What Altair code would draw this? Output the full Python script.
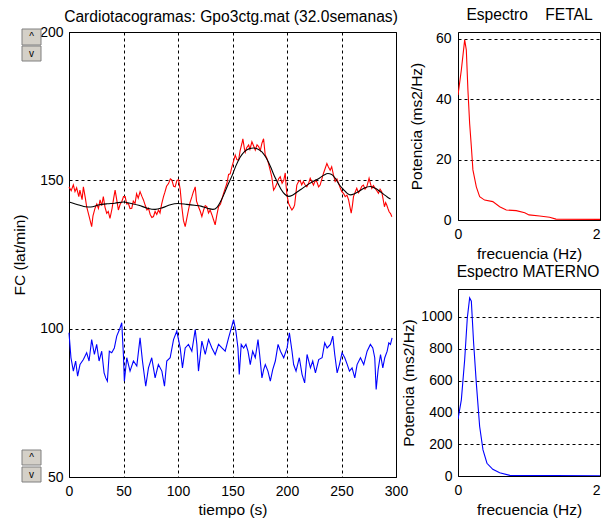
import altair as alt
import pandas as pd

# ---------------- data ----------------
fetal_t = [0, 2, 4, 5.5, 7, 9, 10, 12, 13.2, 15, 16.2, 18, 20.8, 22, 23.9, 25.5, 27, 28.5, 30, 31.5,
           33, 34.6, 36, 37.6, 39.5, 41, 42.3, 44, 45.3, 47, 48.4, 50, 51.5, 53, 54.5, 56, 57.6, 59,
           60.6, 62, 63.5, 65.2, 67, 68.3, 70, 71.5, 72.9, 74.5, 76, 77.5, 79, 80.5, 82.1, 83.5, 85,
           86.7, 88, 89.5, 91.3, 93, 94.3, 96, 97.4, 99, 100.5, 102, 103.5, 105, 106.6, 108, 109.6,
           111, 112.7, 114, 115.8, 117, 118.8, 120.5, 121.9, 123.5, 125, 126.5, 128, 129.5, 131,
           132.6, 134.1, 135.5, 137.2, 139, 140.5, 141.8, 143.3, 144.9, 146.4, 147.9, 149.5, 151,
           152.5, 154, 155.6, 157, 158.7, 159.5, 161, 161.7, 163, 164.8, 166, 167.8, 169.5, 170.9,
           172.5, 174, 175.5, 177, 178.5, 180, 181.5, 183, 184.5, 186, 187.7, 189, 190.8, 192.3,
           193.8, 195.5, 197, 198.4, 199.2, 200, 201.5, 203, 204.5, 206, 207, 208, 209, 210.5, 212,
           213.5, 215, 216.5, 218.2, 219.8, 221.3, 222.8, 224.3, 226, 227.4, 229, 230.4, 232, 233.5,
           235, 236.6, 238, 239.6, 241, 242.5, 244.2, 245.8, 247.3, 248.8, 250.3, 252, 253.4, 255,
           256.5, 257.8, 258.9, 260, 261, 262.5, 264, 265.5, 267.1, 268.6, 270.1, 271.6, 273.2,
           275.3, 276.5, 277.8, 279.3, 280.8, 282.4, 283.9, 285.4, 286.9, 288, 289.4, 290.5, 291.5,
           292.6, 293.7, 295, 296.2]
fetal_v = [147.8, 146.5, 148.5, 146.2, 147.5, 144.5, 146.7, 143.5, 147.8, 144, 141.1, 138.5, 134.4,
           138, 140.6, 142, 140.5, 143.4, 141.5, 144.5, 141, 138.9, 139.5, 137.2, 140.5, 144, 146.7,
           143, 140, 142, 142.8, 144.5, 144.5, 142, 142.2, 140.5, 140.6, 143, 142.2, 145.5, 144,
           146.2, 144.5, 143.4, 141.5, 140, 140.6, 138.5, 137.5, 137.8, 139.5, 138.5, 140, 139, 142,
           144.5, 146, 148, 148.9, 150.5, 150.2, 148, 147.8, 150, 150.2, 147, 141.1, 136.5, 134.4,
           137, 140, 142.5, 144.4, 146, 147.8, 143, 141.1, 139.5, 137.8, 140, 141.5, 141.1, 139, 140,
           138.5, 136.7, 135, 138, 141.1, 142, 144, 145.6, 147.3, 149, 152, 152.2, 154.6, 156.5,
           158.5, 157, 156.8, 160, 162.5, 164, 160.5, 159.5, 161, 161.9, 160.5, 163, 161.5, 160.2,
           162, 161.4, 160, 162.5, 164, 158.6, 157.5, 155.7, 153.5, 151.2, 146.7, 147.5, 148.9,
           150.5, 151.2, 149, 150, 152.5, 148, 145, 142.2, 141, 140, 140.8, 141.7, 145, 148.4, 149.5,
           150, 148.5, 149.6, 148.5, 147.8, 149, 150.7, 149.5, 148.4, 150, 149.5, 147.8, 148.4,
           150.5, 152.4, 154, 155.7, 154.5, 153.4, 154.6, 152, 149.6, 150.5, 149, 147.5, 146.2,
           145.5, 144.5, 145, 143.4, 141, 138.9, 141.5, 144.5, 146, 147.3, 145.8, 146.7, 148, 148.4,
           147, 147.8, 150.7, 149, 147.3, 148.2, 147.3, 146.5, 145.6, 147, 146.2, 144, 141.1, 142.5,
           141.7, 140.5, 139.4, 138.8, 137.7]

trend_t = [0, 10, 15, 20, 27, 35, 42, 50, 57, 64, 72, 79, 86, 93, 100, 108, 115, 121, 127, 132,
           136, 140, 143, 146.4, 149.5, 153, 157, 161, 165, 169.4, 173, 177, 181, 185, 188, 191,
           194.5, 198, 201.5, 205, 209, 213, 218, 224, 230, 234, 237.5, 241, 244, 248, 252, 255,
           258, 262, 266, 271, 276.5, 281, 285, 289, 292, 295]
trend_v = [142.7, 141.6, 141.1, 141, 141.7, 142.1, 142.3, 142.7, 142.2, 141.6, 140.6, 140.2, 140.8,
           141.8, 142.2, 141.9, 141.6, 141.3, 140.6, 140.2, 141, 143.5, 146, 149, 151.5, 154.8,
           157.8, 159.7, 160.6, 160.9, 160.6, 159.6, 157.5, 154.5, 151.8, 149.5, 147, 145.3, 144.6,
           145, 146, 147, 148.3, 149.6, 150.8, 151.8, 152.3, 152, 150.8, 148.5, 146.8, 145.7, 145.1,
           145.5, 146.3, 147.4, 147.9, 147.3, 146.3, 145.2, 144.4, 143.7]

maternal_t = [0, 1.8, 4, 6.1, 7.9, 10.1, 13.2, 16.2, 18.4, 20.8, 23.3, 25.4, 27.6, 30, 32.2, 33.7,
              35.2, 37, 39.2, 41.6, 43.8, 46.3, 48.4, 49.9, 50.8, 53, 56, 59.1, 62.2, 65.2, 67.4,
              70.4, 72.9, 75.9, 79, 82, 85.2, 87.6, 89.7, 92.8, 95.9, 98.9, 102, 104.1, 106.6,
              109.6, 112.7, 115.8, 117.3, 118.8, 121.9, 125, 128, 131.1, 134.1, 137.2, 140.3,
              143.3, 146.4, 148.9, 151, 153.1, 155, 156.2, 158, 160.2, 162.3, 164.2, 166.3, 168.5,
              170.9, 173.4, 174.9, 177, 178.6, 180.1, 182.5, 184.7, 186.9, 189.3, 191.8, 194, 197,
              200.1, 202.2, 204.6, 206.1, 208.3, 211.3, 213.8, 216.2, 218.4, 221.5, 223.6, 226.1,
              229.1, 232.2, 234.6, 236.8, 239.8, 242, 243.8, 246, 248.1, 250.5, 253, 255.3, 257.3,
              259.7, 262.2, 264.3, 267.4, 270.4, 273.5, 276.5, 278.7, 280.5, 281.8, 283.6, 285.8,
              287.9, 289.7, 291.9, 293.4, 294.9, 296.4]
maternal_v = [98.6, 90.2, 85.7, 89.1, 84, 87.9, 89.6, 91.9, 89.1, 96.3, 91.3, 94.7, 89.1, 92.4, 85.1,
              83.4, 82.3, 92.4, 91.9, 93.5, 97.5, 99.7, 102, 91.3, 82.3, 90.2, 85.7, 89.1, 87.4,
              96.9, 89.1, 80.6, 86.8, 90.2, 83.4, 87.9, 85.7, 80.6, 89.1, 90.2, 96.3, 99.2, 93.5,
              86.8, 93.5, 94.7, 92.4, 99.7, 94.7, 85.7, 95.8, 91.3, 96.3, 93.5, 91.3, 94.7, 93.5,
              92.4, 96.9, 100.2, 103, 99.2, 93.5, 84.6, 94.7, 93.5, 94.7, 92.4, 87.9, 92.4, 90.2,
              96.3, 91.3, 83.4, 86.2, 87.9, 85.7, 82.3, 86.2, 89.1, 94.7, 92.4, 90.2, 93.5, 98.6,
              92.4, 87.9, 85.7, 90.2, 84.6, 81.7, 91.3, 86.8, 89.1, 85.1, 89.6, 90.2, 95.2, 93.5,
              94.7, 97.5, 91.3, 85.1, 87.9, 91.9, 90.2, 87.9, 85.7, 86.8, 83.4, 87.9, 90.2, 87.9,
              92.4, 94.7, 93.5, 90.2, 79.5, 86.2, 91.3, 86.8, 90.2, 92.4, 95.2, 94.7, 96.9]

freq_fetal = [0, 0.047, 0.094, 0.117, 0.14, 0.164, 0.188, 0.21, 0.258, 0.305, 0.375, 0.49, 0.587,
              0.68, 0.82, 0.94, 1.0, 1.15, 1.29, 1.38, 2.0, 2.5]
psd_fetal = [41.4, 49.7, 59.7, 56.4, 43, 32, 24.3, 16.6, 11, 7.7, 6.6, 6.1, 4.4, 3.3, 3.1, 2.4, 1.7,
             1.3, 0.9, 0.3, 0.2, 0.1]

freq_maternal = [0, 0.047, 0.094, 0.131, 0.164, 0.188, 0.22, 0.258, 0.305, 0.352, 0.408, 0.49,
                 0.587, 0.73, 2.0, 2.5]
psd_maternal = [357, 479, 731, 994, 1120, 1099, 836, 584, 311, 164, 80, 42, 21, 4, 2, 1]

time_ticks = [0, 50, 100, 150, 200, 250, 300]
fc_ticks = [50, 100, 150, 200]
freq_ticks = [0, 1, 2]
fetal_psd_ticks = [0, 20, 40, 60]
maternal_psd_ticks = [0, 200, 400, 600, 800, 1000]

main_title = "Cardiotacogramas: Gpo3ctg.mat (32.0semanas)"
fetal_title = "Espectro\u00a0\u00a0\u00a0 FETAL"
maternal_title = "Espectro MATERNO"

# ---------------- styling ----------------
FONT = "Liberation Sans"
TFS = 15.6
grid_axis = dict(grid=True, gridColor="black", gridDash=[3, 3], gridOpacity=1, gridWidth=1,
                 domain=False, ticks=False, labelColor="black", titleColor="black",
                 labelFont=FONT, titleFont=FONT, labelFontSize=14, titleFontSize=15.5,
                 titleFontWeight="normal")

fhr = pd.DataFrame({"t": fetal_t, "v": fetal_v})
trend = pd.DataFrame({"t": trend_t, "v": trend_v})
mhr = pd.DataFrame({"t": maternal_t, "v": maternal_v})

x_main = alt.X("t:Q", scale=alt.Scale(domain=[0, 300], nice=False),
               axis=alt.Axis(values=time_ticks, title="tiempo (s)", labelPadding=7,
                             titlePadding=4, labelFlush=False, **grid_axis))
y_main = alt.Y("v:Q", scale=alt.Scale(domain=[50, 200], nice=False),
               axis=alt.Axis(values=fc_ticks, title="FC (lat/min)", labelPadding=6,
                             titlePadding=12, **grid_axis))

red = alt.Chart(fhr).mark_line(color="#ff0000", strokeWidth=1.1).encode(x=x_main, y=y_main)
black = alt.Chart(trend).mark_line(color="#000000", strokeWidth=1.1, interpolate="monotone").encode(
    x="t:Q", y="v:Q")
blue = alt.Chart(mhr).mark_line(color="#0000ff", strokeWidth=1.1).encode(x="t:Q", y="v:Q")


def title_text(label, cx, base_y, size=TFS):
    return alt.Chart(pd.DataFrame({"label": [label]})).mark_text(
        font=FONT, fontSize=size, color="black", align="center", baseline="alphabetic"
    ).encode(x=alt.value(cx), y=alt.value(base_y), text="label:N")


def button(y0, y1, glyph):
    base = alt.Chart(pd.DataFrame({"g": [glyph]}))
    face = base.mark_rect(fill="#d4d0c8", stroke="#808080", strokeWidth=1).encode(
        x=alt.value(-47), x2=alt.value(-28), y=alt.value(y0), y2=alt.value(y1))
    txt = base.mark_text(font=FONT, fontSize=10, color="black", baseline="middle").encode(
        x=alt.value(-37.5), y=alt.value((y0 + y1) / 2), text="g:N")
    return face + txt


main = alt.layer(
    red, black, blue,
    title_text(main_title, 162, -10),
    button(-3, 13, "^"), button(14, 29, "v"),
    button(418, 433, "^"), button(435, 450, "v"),
).properties(width=327, height=445)

fetal_df = pd.DataFrame({"f": freq_fetal, "p": psd_fetal})
mat_df = pd.DataFrame({"f": freq_maternal, "p": psd_maternal})

label_align = alt.condition("datum.value == 2", alt.value("right"), alt.value("center"))


def spectrum(df, color, ydom, yticks, title, title_cx, title_y, height, lpad, tpad):
    line = alt.Chart(df).mark_line(color=color, strokeWidth=1.1, clip=True).encode(
        x=alt.X("f:Q", scale=alt.Scale(domain=[0, 2], nice=False),
                axis=alt.Axis(values=freq_ticks, format="d", title="frecuencia (Hz)",
                              labelPadding=7, titlePadding=5, labelFlush=False,
                              labelAlign=label_align, **grid_axis)),
        y=alt.Y("p:Q", scale=alt.Scale(domain=ydom, nice=False),
                axis=alt.Axis(values=yticks, format="d", title="Potencia (ms2/Hz)",
                              labelPadding=lpad, titlePadding=tpad, **grid_axis)),
    )
    return alt.layer(line, title_text(title, title_cx, title_y)).properties(width=142, height=height)


right = alt.vconcat(
    spectrum(fetal_df, "#ff0000", [0, 62.3], fetal_psd_ticks, fetal_title, 71.5, -12, 188, 7, 11),
    spectrum(mat_df, "#0000ff", [0, 1176], maternal_psd_ticks, maternal_title, 70, -12, 187, 6, 4),
    spacing=69, bounds="flush",
)

chart = alt.hconcat(main, right, spacing=62, bounds="flush").properties(
    padding={"left": 12, "top": 7, "right": 0, "bottom": 0},
    background="white",
).configure_view(stroke="black", strokeWidth=1)

chart.save("out.html", embed_options={"renderer": "svg", "actions": False})
